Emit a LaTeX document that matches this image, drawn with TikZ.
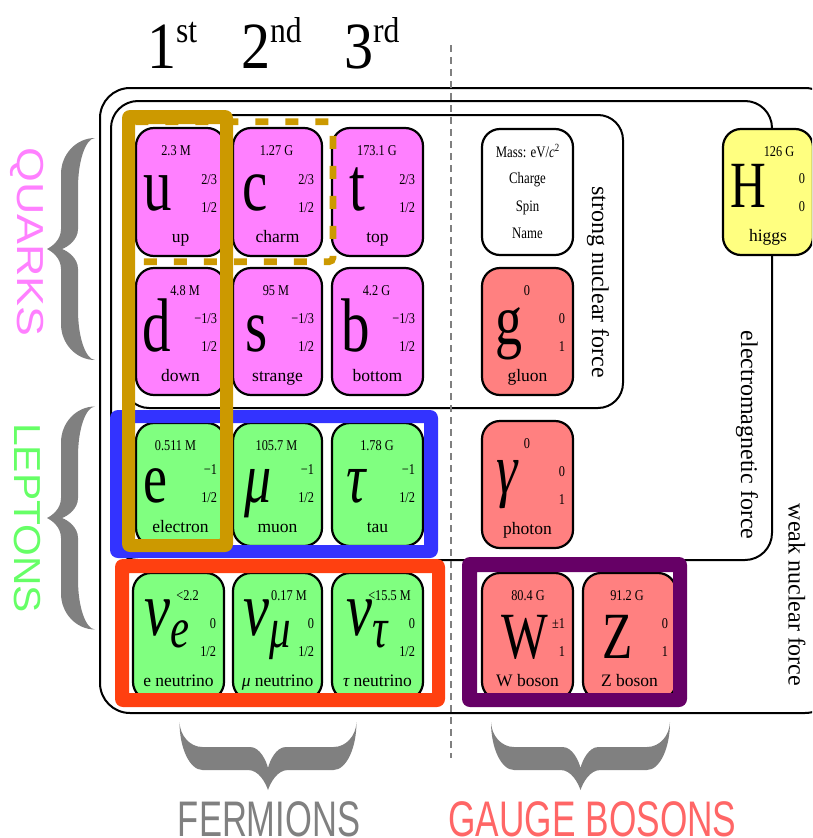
\documentclass[tikz,border=0pt]{standalone}
\usepackage{fontspec}
\setmainfont{Liberation Serif}
\newfontfamily\labelsans{Liberation Sans}
\usepackage{graphicx}
\usetikzlibrary{calc,fit}

\definecolor{quark}{RGB}{255,128,255}
\definecolor{lepton}{RGB}{128,255,128}
\definecolor{boson}{RGB}{255,128,128}
\definecolor{higgsc}{RGB}{255,255,128}
\definecolor{goldc}{RGB}{204,153,0}
\definecolor{bluec}{RGB}{51,51,255}
\definecolor{redc}{RGB}{255,64,16}
\definecolor{purplec}{RGB}{102,0,102}
\definecolor{grayc}{RGB}{128,128,128}
\definecolor{quarklbl}{RGB}{255,128,255}
\definecolor{leptonlbl}{RGB}{102,255,102}
\definecolor{bosonlbl}{RGB}{255,102,102}

\newcommand\fsz[1]{\fontsize{#1}{#1}\selectfont}
\newcommand\hsc[2]{\scalebox{#1}[1]{#2}}
\newcommand\BQ[1]{\hsc{0.75}{\fsz{76}#1}}
\newcommand\BL[1]{\hsc{0.75}{\fsz{72}#1}}
\newcommand\BB[1]{\hsc{0.75}{\fsz{66}#1}}
\newcommand\BN[1]{\hsc{0.75}{\fsz{78}\itshape ν\raisebox{-12pt}{\fsz{57}#1}}}

\tikzset{
  boxline/.style={draw=black, line width=2pt},
  cellbox/.style={draw=black, line width=2.2pt, rounded corners=18pt, inner sep=0pt, outer sep=0pt},
  txt/.style={inner sep=0pt, outer sep=0pt},
  masst/.style={txt, anchor=base},
  qnt/.style={txt, anchor=base east},
  namet/.style={txt, anchor=base, font=\fsz{17.5}},
  bigt/.style={txt, anchor=base},
  forcet/.style={txt, rotate=-90, font=\fsz{24}},
  legt/.style={txt, anchor=base},
}

\newcommand\pcell[6]{\node[cellbox, fill=#6, fit={(#2,#3) (#4,#5)}] (#1) {};}
\newcommand\ptext[9]{%
  \node[masst] (#1-m) at ($(#1.north west)+(#3,27)$) {\hsc{0.82}{\fsz{15}#2}};
  \node[bigt] (#1-l) at ($(#1.north west)+(#5,#6)$) {#4};
  \node[qnt] (#1-c) at ($(#1.south east)+(-8,-72)$) {\hsc{0.82}{\fsz{15}#7}};
  \node[qnt] (#1-s) at ($(#1.south east)+(-8,-44)$) {\hsc{0.82}{\fsz{15}#8}};
  \node[namet] (#1-n) at ($(#1.south)+(0,-14)$) {#9};}

% brace pointing to -x, tip at origin
% D, L, s1, s2, xc, a, a2, b, b2
\newcommand\bracefill[9]{%
  \fill[grayc] (#1,-#2)
  .. controls ({#3+0.45*(#1-#3)},-#2) and (#3,{-#2+0.45*#6}) .. (#3,{-#2+#6})
  -- (#3,-#8)
  .. controls (#3,{-0.45*#8}) and ({0.35*#3},{-0.12*#8}) .. (0,0)
  .. controls ({0.35*#3},{0.12*#8}) and (#3,{0.45*#8}) .. (#3,#8)
  -- (#3,{#2-#6})
  .. controls (#3,{#2-0.45*#6}) and ({#3+0.45*(#1-#3)},#2) .. (#1,#2)
  .. controls ({#4+0.45*(#1-#4)},{#2-0.5}) and (#4,{#2-0.45*#7}) .. (#4,{#2-#7})
  -- (#4,#9)
  .. controls (#4,{0.45*#9}) and ({#5+0.35*(#4-#5)},{0.1*#9}) .. (#5,0)
  .. controls ({#5+0.35*(#4-#5)},{-0.1*#9}) and (#4,{-0.45*#9}) .. (#4,-#9)
  -- (#4,{-#2+#7})
  .. controls (#4,{-#2+0.45*#7}) and ({#4+0.45*(#1-#4)},{-#2+0.5}) .. (#1,-#2) -- cycle;}

\begin{document}
\begin{tikzpicture}[x=1pt,y=-1pt]
\useasboundingbox (0,0) rectangle (812,838);
\clip (0,0) rectangle (812,838);
\fill[white] (0,0) rectangle (812,838);

% force boxes
\draw[boxline, rounded corners=30pt] (100,88) rectangle (835,713);
\draw[boxline, rounded corners=27pt] (111,101) rectangle (772,560);
\draw[boxline, rounded corners=25pt] (124,115) rectangle (623,408);

% separator
\draw[grayc, line width=2pt, dash pattern=on 7pt off 5pt] (451,45) -- (451,758);

% quarks
\pcell{u}{136}{128}{225}{256}{quark}
\ptext{u}{2.3 M}{40}{\BQ{u}}{21.5}{82}{2/3}{1/2}{up}
\pcell{c}{233}{128}{322}{256}{quark}
\ptext{c}{1.27 G}{43.5}{\BQ{c}}{22}{82}{2/3}{1/2}{charm}
\pcell{t}{332}{128}{423}{256}{quark}
\ptext{t}{173.1 G}{45}{\BQ{t}}{25.5}{82}{2/3}{1/2}{top}
\pcell{d}{136}{268}{225}{395}{quark}
\ptext{d}{4.8 M}{49}{\BQ{d}}{21}{83}{−1/3}{1/2}{down}
\pcell{s}{233}{268}{322}{395}{quark}
\ptext{s}{95 M}{43}{\BQ{s}}{24}{83}{−1/3}{1/2}{strange}
\pcell{b}{332}{268}{423}{395}{quark}
\ptext{b}{4.2 G}{44.5}{\BQ{b}}{23.5}{83}{−1/3}{1/2}{bottom}

% charged leptons
\pcell{e}{136}{423}{225}{546}{lepton}
\ptext{e}{0.511 M}{39.5}{\BL{e}}{19.5}{79}{−1}{1/2}{electron}
\pcell{mu}{233}{423}{322}{546}{lepton}
\ptext{mu}{105.7 M}{43.5}{\BL{\itshape μ}}{25}{79}{−1}{1/2}{muon}
\pcell{tau}{332}{423}{423}{546}{lepton}
\ptext{tau}{1.78 G}{45}{\BL{\itshape τ}}{24.5}{79}{−1}{1/2}{tau}

% neutrinos
\pcell{ve}{133}{573}{224}{700}{lepton}
\ptext{ve}{<2.2}{54.5}{\BN{e}}{34}{62}{0}{1/2}{e neutrino}
\pcell{vmu}{233}{573}{322}{700}{lepton}
\ptext{vmu}{0.17 M}{56}{\BN{μ}}{34.5}{62}{0}{1/2}{{\itshape μ} neutrino}
\pcell{vtau}{332}{573}{423}{700}{lepton}
\ptext{vtau}{<15.5 M}{57.5}{\BN{τ}}{35.5}{62}{0}{1/2}{{\itshape τ} neutrino}

% legend
\pcell{leg}{482}{129}{573}{255}{white}
\node[legt] (leg1) at (527.5,157) {\hsc{0.8}{\fsz{16}Mass: eV/\textit{c}\raisebox{6pt}{\fsz{11}2}}};
\node[legt] (leg2) at (527.5,183) {\hsc{0.8}{\fsz{16}Charge}};
\node[legt] (leg3) at (527.5,211) {\hsc{0.8}{\fsz{16}Spin}};
\node[legt] (leg4) at (527.5,238) {\hsc{0.8}{\fsz{16}Name}};

% bosons
\pcell{g}{482}{268}{573}{395}{boson}
\ptext{g}{0}{45}{\BL{g}}{26.5}{76}{0}{1}{gluon}
\pcell{gam}{482}{421}{573}{548}{boson}
\ptext{gam}{0}{45}{\BL{\itshape γ}}{25.5}{72}{0}{1}{photon}
\pcell{W}{482}{573}{573}{700}{boson}
\ptext{W}{80.4 G}{46}{\BB{W}}{42.5}{85}{±1}{1}{W boson}
\pcell{Z}{583}{573}{676}{700}{boson}
\ptext{Z}{91.2 G}{44}{\BB{Z}}{35}{85}{0}{1}{Z boson}
\pcell{H}{723}{129}{813}{255}{higgsc}
\ptext{H}{126 G}{56}{\BB{H}}{25.5}{78}{0}{0}{higgs}

% gold dashed frame
\draw[goldc, line width=6.7pt, dash pattern=on 13pt off 17pt, rounded corners=4pt] (128,121.7) rectangle (333,261.7);

% frames
\fill[bluec, even odd rule, rounded corners=8pt] (110,410) rectangle (438,558) [sharp corners] (123,423) rectangle (424,545);
\fill[redc, even odd rule, rounded corners=8pt] (115,559) rectangle (445,707) [sharp corners] (129,573) rectangle (432,693);
\fill[purplec, even odd rule, rounded corners=8pt] (462,557) rectangle (687,707) [sharp corners] (477,572) rectangle (673,693);
\fill[goldc, even odd rule, rounded corners=8pt] (122,110) rectangle (233,552) [sharp corners] (135,124) rectangle (220,539);

% force labels
\node[forcet] (strongl) at (598,282) {strong nuclear force};
\node[forcet] (eml) at (747,435) {electromagnetic force};
\node[forcet] (weakl) at (797,595) {weak nuclear force};

% generations
\node[txt, anchor=base west] (gen1) at (147,68) {\hsc{0.88}{\fsz{66}1\raisebox{26pt}{\fsz{36}st}}};
\node[txt, anchor=base west] (gen2) at (241,68) {\hsc{0.88}{\fsz{66}2\raisebox{26pt}{\fsz{36}nd}}};
\node[txt, anchor=base west] (gen3) at (344,68) {\hsc{0.88}{\fsz{66}3\raisebox{26pt}{\fsz{36}rd}}};

% braces
\begin{scope}[shift={(47,249)}]
  \bracefill{48}{111}{14}{31}{15}{36}{50}{20}{20}
\end{scope}
\begin{scope}[shift={(47,518)}]
  \bracefill{48}{111.5}{14}{31}{15}{36}{50}{20}{20}
\end{scope}
\begin{scope}[shift={(268,790)}, rotate=90]
  \bracefill{68}{88.5}{20}{43}{22}{23}{23}{20}{18}
\end{scope}
\begin{scope}[shift={(580.5,790)}, rotate=90]
  \bracefill{68}{89.5}{20}{43}{22}{23}{23}{20}{18}
\end{scope}

% group labels
\node[txt, rotate=-90, text=quarklbl] (quarks) at (27,242) {\scalebox{1.12}[0.94]{\labelsans\fsz{40}QUARKS}};
\node[txt, rotate=-90, text=leptonlbl] (leptons) at (27,518) {\scalebox{1.02}[0.94]{\labelsans\fsz{40}LEPTONS}};
\node[txt, anchor=base, text=grayc] (fermions) at (269,836) {\scalebox{0.69}[1]{\labelsans\fsz{50}FERMIONS}};
\node[txt, anchor=base, text=bosonlbl] (gauge) at (592.5,836) {\scalebox{0.705}[1]{\labelsans\fsz{50}GAUGE BOSONS}};
\end{tikzpicture}
\end{document}
